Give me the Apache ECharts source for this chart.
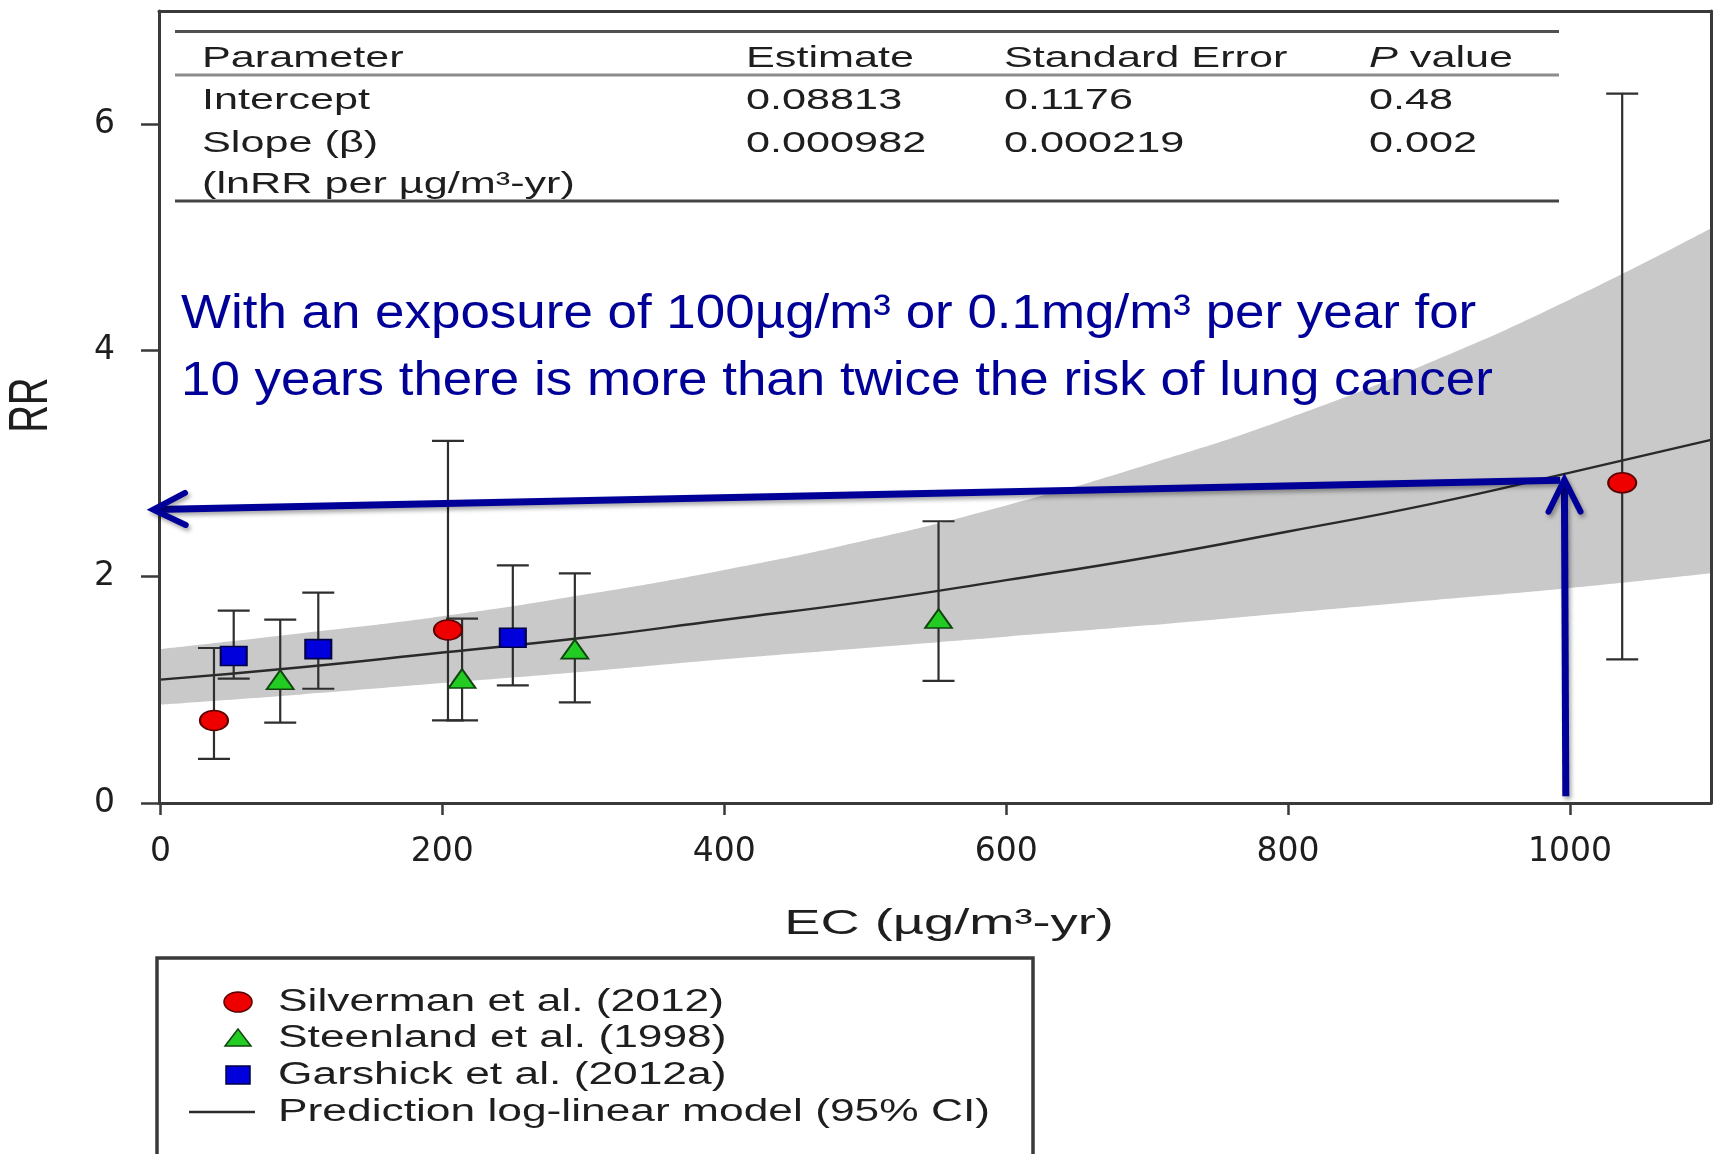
<!DOCTYPE html>
<html>
<head>
<meta charset="utf-8">
<title>EC exposure and lung cancer RR</title>
<script src="https://cdn.jsdelivr.net/npm/echarts@6/dist/echarts.min.js"></script>
<style>
    html, body { margin: 0; padding: 0; background: #fff; }
    #chart { width: 1715px; height: 1154px; }
</style>
</head>
<body>
<div id="chart"></div>
<script>
// prediction log-linear model, every 100 µg/m3-yr
const modelX = [0, 100, 200, 300, 400, 500, 600, 700, 800, 900, 1000, 1100];
const modelRR = [1.09, 1.20, 1.33, 1.46, 1.62, 1.78, 1.97, 2.17, 2.40, 2.64, 2.92, 3.21];
const modelLow = [0.87, 0.96, 1.06, 1.16, 1.27, 1.37, 1.47, 1.57, 1.68, 1.79, 1.90, 2.03];
const modelHigh = [1.36, 1.50, 1.65, 1.84, 2.06, 2.32, 2.63, 2.99, 3.40, 3.89, 4.45, 5.08];

// studies: exposure, RR and 95% CI
const silvermanX = [38, 204, 1037];
const silvermanRR = [0.73, 1.53, 2.83];
const silvermanLow = [0.39, 0.73, 1.27];
const silvermanHigh = [1.37, 3.20, 6.27];

const steenlandX = [85, 214, 294, 552];
const steenlandRR = [1.09, 1.10, 1.36, 1.63];
const steenlandLow = [0.71, 0.73, 0.89, 1.08];
const steenlandHigh = [1.62, 1.63, 2.03, 2.49];

const garshickX = [52, 112, 250];
const garshickRR = [1.30, 1.36, 1.46];
const garshickLow = [1.10, 1.01, 1.04];
const garshickHigh = [1.70, 1.86, 2.10];

const xTicks = [0, 200, 400, 600, 800, 1000];
const yTicks = [0, 2, 4, 6];

const legendNames = ['Silverman et al. (2012)', 'Steenland et al. (1998)', 'Garshick et al. (2012a)', 'Prediction log-linear model (95% CI)'];

const tableHeader = ['Parameter', 'Estimate', 'Standard Error', '{it|P} value'];
const tableRows = [
    ['Intercept', '0.08813', '0.1176', '0.48'],
    ['Slope (\u03b2)', '0.000982', '0.000219', '0.002'],
    ['(lnRR per \u00b5g/m\u00b3-yr)', '', '', '']
];

const noteLines = [
    'With an exposure of 100\u00b5g/m\u00b3 or 0.1mg/m\u00b3 per year for',
    '10 years there is more than twice the risk of lung cancer'
];

// blue arrows: [tailX, tailY, tipX, tipY] in data units
const arrows = [
    [993, 2.852, -5, 2.593],
    [997, 0.06, 996, 2.858]
];

const FONT = "'Liberation Sans', Arial, sans-serif";
const WIDE = 1.44;   // the original figure is stretched horizontally
const INK = '#3a3a3a';
const NOTE_BLUE = '#000099';
const BAND = '#c9c9c9';

const ellipse = 'path://M0,10A10,10,0,1,1,20,10A10,10,0,1,1,0,10Z';

function zip(xs, ...cols) {
    return xs.map((x, i) => [x, ...cols.map(c => c[i])]);
}

function renderErrorBar(params, api) {
    const x = api.value(0);
    const lo = api.coord([x, api.value(1)]);
    const hi = api.coord([x, api.value(2)]);
    const half = 16;
    const style = { stroke: '#2e2e2e', lineWidth: 2.2 };
    return {
        type: 'group',
        children: [
            { type: 'line', shape: { x1: hi[0], y1: hi[1], x2: lo[0], y2: lo[1] }, style },
            { type: 'line', shape: { x1: hi[0] - half, y1: hi[1], x2: hi[0] + half, y2: hi[1] }, style },
            { type: 'line', shape: { x1: lo[0] - half, y1: lo[1], x2: lo[0] + half, y2: lo[1] }, style }
        ]
    };
}

function renderArrow(params, api) {
    const tail = api.coord([api.value(0), api.value(1)]);
    const tip = api.coord([api.value(2), api.value(3)]);
    const dx = tip[0] - tail[0], dy = tip[1] - tail[1];
    const len = Math.hypot(dx, dy);
    const ux = dx / len, uy = dy / len;
    const back = 32, spread = 16;
    const a = [tip[0] - ux * back - uy * spread, tip[1] - uy * back + ux * spread];
    const b = [tip[0] - ux * back + uy * spread, tip[1] - uy * back - ux * spread];
    const shadow = { shadowBlur: 4, shadowColor: 'rgba(0,0,0,0.35)', shadowOffsetX: 2, shadowOffsetY: 3 };
    return {
        type: 'group',
        children: [
            { type: 'line', shape: { x1: tail[0], y1: tail[1], x2: tip[0] - ux * 3, y2: tip[1] - uy * 3 },
              style: Object.assign({ stroke: NOTE_BLUE, lineWidth: 7 }, shadow) },
            { type: 'polyline', shape: { points: [a, tip, b] },
              style: Object.assign({ stroke: NOTE_BLUE, lineWidth: 6, lineCap: 'round', lineJoin: 'miter', fill: null }, shadow) }
        ]
    };
}

function textEl(x, y, text, size, extra) {
    return Object.assign({
        type: 'text', x: x, y: y, scaleX: WIDE, z: 50,
        style: { text: text, fontSize: size, fontFamily: FONT, fill: '#1e1e1e',
                 align: 'left', verticalAlign: 'middle', textAlign: 'left', textVerticalAlign: 'middle' }
    }, extra || {});
}

// parameter table in the upper part of the plot
const tableCols = [202, 746, 1004, 1369];
const tableYs = [59, 101, 144, 185];
const graphics = [];
[tableHeader].concat(tableRows).forEach((row, r) => {
    row.forEach((cell, c) => {
        if (!cell) return;
        const el = textEl(tableCols[c], tableYs[r], cell, 30);
        el.style.rich = { it: { fontStyle: 'italic', fontSize: 30, fontFamily: FONT } };
        graphics.push(el);
    });
});
graphics.push(
    { type: 'line', z: 50, shape: { x1: 175, y1: 31.5, x2: 1559, y2: 31.5 }, style: { stroke: '#505050', lineWidth: 3 } },
    { type: 'line', z: 50, shape: { x1: 175, y1: 75, x2: 1559, y2: 75 }, style: { stroke: '#8c8c8c', lineWidth: 3 } },
    { type: 'line', z: 50, shape: { x1: 175, y1: 201, x2: 1559, y2: 201 }, style: { stroke: '#454545', lineWidth: 3 } }
);

// axis titles
const ecTitle = textEl(949, 924, 'EC (\u00b5g/m\u00b3-yr)', 35, { scaleX: 1.55 });
ecTitle.style.align = 'center';
ecTitle.style.textAlign = 'center';
graphics.push(
    ecTitle,
    { type: 'text', x: 32, y: 405, rotation: Math.PI / 2, scaleY: 1.45, z: 50,
      style: { text: 'RR', fontSize: 38, fontFamily: FONT, fill: '#1e1e1e',
               align: 'center', verticalAlign: 'middle', textAlign: 'center', textVerticalAlign: 'middle' } }
);

// blue note
noteLines.forEach((line, i) => {
    graphics.push({
        type: 'text', x: 181, y: 314 + i * 67, scaleX: 1.08, z: 60,
        style: { text: line, fontSize: 49, fontFamily: FONT, fill: NOTE_BLUE,
                 align: 'left', verticalAlign: 'middle', textAlign: 'left', textVerticalAlign: 'middle' }
    });
});

// legend box under the plot
const legX = 238, legTextX = 278, legYs = [1002, 1038, 1075, 1112];
graphics.push(
    { type: 'rect', z: 40, shape: { x: 157, y: 958, width: 876, height: 260 }, style: { fill: '#fff', stroke: INK, lineWidth: 3.5 } },
    { type: 'ellipse', z: 50, shape: { cx: legX, cy: legYs[0], rx: 14, ry: 10 }, style: { fill: '#ee0000', stroke: '#5a0000', lineWidth: 1.5 } },
    { type: 'polygon', z: 50, shape: { points: [[legX - 13, legYs[1] + 8], [legX, legYs[1] - 9], [legX + 13, legYs[1] + 8]] },
      style: { fill: '#22cc22', stroke: '#114411', lineWidth: 1.5 } },
    { type: 'rect', z: 50, shape: { x: legX - 12, y: legYs[2] - 9, width: 24, height: 18 }, style: { fill: '#0000dd', stroke: '#000044', lineWidth: 1.5 } },
    { type: 'line', z: 50, shape: { x1: 189, y1: legYs[3], x2: 255, y2: legYs[3] }, style: { stroke: '#2a2a2a', lineWidth: 2.5 } }
);
legendNames.forEach((name, i) => graphics.push(textEl(legTextX, legYs[i], name, 31, { scaleX: 1.43 })));

const axisFont = { fontSize: 33, fontFamily: "'DejaVu Sans', sans-serif", color: '#1e1e1e', formatter: v => String(v) };
const frameLine = { show: true, onZero: false, lineStyle: { color: INK, width: 3 } };

const option = {
    animation: false,
    backgroundColor: '#fff',
    grid: { left: 159, right: 4, top: 11, bottom: 351 },
    xAxis: [
        {
            type: 'value', min: -1, max: 1100, z: 10,
            axisLine: frameLine,
            axisTick: { customValues: xTicks, length: 12, lineStyle: { color: INK, width: 2.5 } },
            axisLabel: Object.assign({ customValues: xTicks, margin: 33 }, axisFont),
            splitLine: { show: false }
        },
        {
            type: 'value', position: 'top', min: -1, max: 1100, z: 10,
            axisLine: frameLine, axisTick: { show: false }, axisLabel: { show: false }, splitLine: { show: false }
        }
    ],
    yAxis: [
        {
            type: 'value', min: 0, max: 7, z: 10,
            axisLine: frameLine,
            axisTick: { customValues: yTicks, length: 18, lineStyle: { color: INK, width: 2.5 } },
            axisLabel: Object.assign({ customValues: yTicks, margin: 44 }, axisFont),
            splitLine: { show: false }
        },
        {
            type: 'value', position: 'right', min: 0, max: 7, z: 10,
            axisLine: frameLine, axisTick: { show: false }, axisLabel: { show: false }, splitLine: { show: false }
        }
    ],
    graphic: graphics,
    series: [
        // 95% CI band: grey down from the upper bound, then masked in white below the lower bound
        {
            name: '95% CI', type: 'line', smooth: true, symbol: 'none', silent: true, z: 1,
            lineStyle: { width: 0 },
            areaStyle: { color: BAND, opacity: 1, origin: 'start' },
            data: zip(modelX, modelHigh)
        },
        {
            name: 'CI lower', type: 'line', smooth: true, symbol: 'none', silent: true, z: 1,
            lineStyle: { width: 0 },
            areaStyle: { color: '#fff', opacity: 1, origin: 'start' },
            data: zip(modelX, modelLow)
        },
        {
            name: legendNames[3], type: 'line', smooth: true, symbol: 'none', z: 2,
            lineStyle: { color: '#2a2a2a', width: 2.4 },
            data: zip(modelX, modelRR)
        },
        {
            name: 'error bars', type: 'custom', z: 3, clip: false,
            renderItem: renderErrorBar,
            encode: { x: 0, y: [1, 2] },
            data: zip(silvermanX, silvermanLow, silvermanHigh)
                .concat(zip(steenlandX, steenlandLow, steenlandHigh))
                .concat(zip(garshickX, garshickLow, garshickHigh))
        },
        {
            name: legendNames[0], type: 'scatter', symbol: ellipse, symbolSize: [28, 20], z: 4,
            itemStyle: { color: '#ee0000', borderColor: '#5a0000', borderWidth: 1.8, opacity: 1 },
            data: zip(silvermanX, silvermanRR)
        },
        {
            name: legendNames[1], type: 'scatter', symbol: 'triangle', symbolSize: [27, 19], z: 4,
            itemStyle: { color: '#22cc22', borderColor: '#114411', borderWidth: 1.8, opacity: 1 },
            data: zip(steenlandX, steenlandRR)
        },
        {
            name: legendNames[2], type: 'scatter', symbol: 'rect', symbolSize: [26, 19], z: 4,
            itemStyle: { color: '#0000dd', borderColor: '#000044', borderWidth: 1.8, opacity: 1 },
            data: zip(garshickX, garshickRR)
        },
        {
            name: 'note arrows', type: 'custom', z: 20, clip: false, silent: true,
            renderItem: renderArrow,
            encode: { x: [0, 2], y: [1, 3] },
            data: arrows
        }
    ]
};

const chart = echarts.init(document.getElementById('chart'));
chart.setOption(option);
</script>
</body>
</html>
